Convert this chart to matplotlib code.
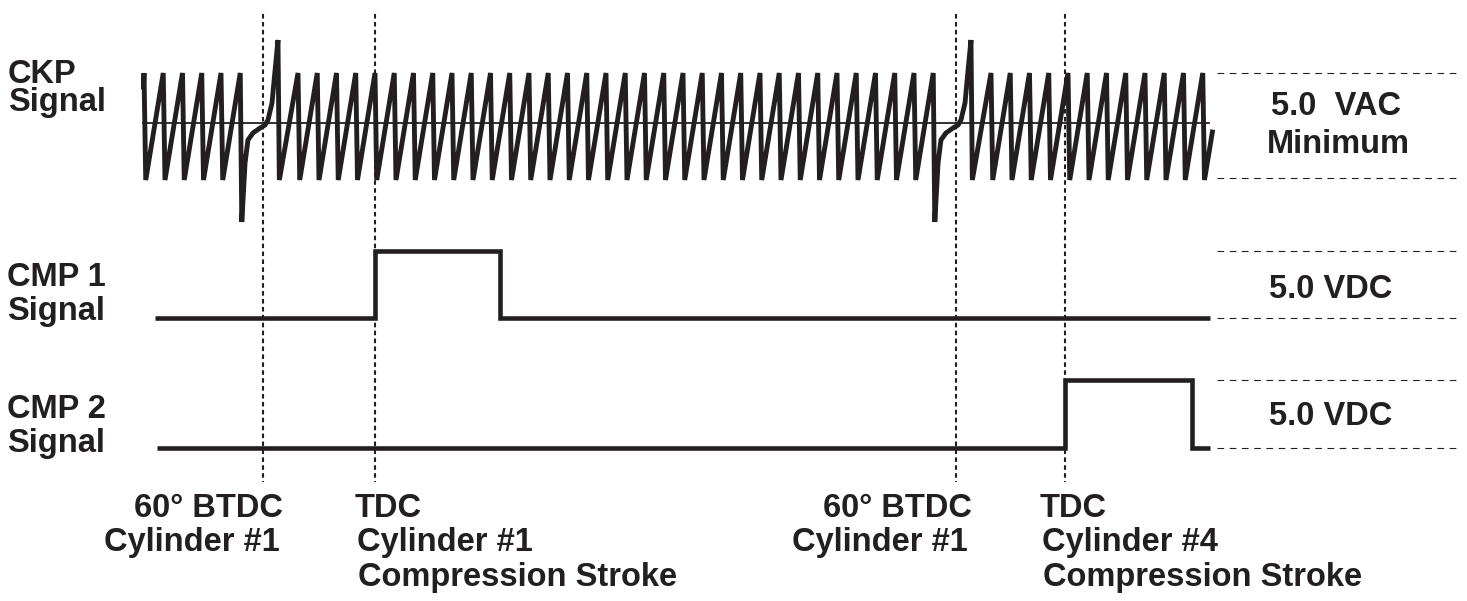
import matplotlib
matplotlib.use("Agg")
import matplotlib.pyplot as plt

# ---- data (crank degrees, volts) ----
# crank angle of each CKP tooth peak (36-1 wheel, 10 deg per tooth)
tooth_deg = [-120, -110, -100, -90, -80, -70,
             -40, -30, -20, -10, 0, 10, 20, 30, 40, 50, 60, 70, 80, 90,
             100, 110, 120, 130, 140, 150, 160, 170, 180, 190, 200, 210,
             220, 230, 240, 250, 260, 270, 280, 290,
             320, 330, 340, 350, 360, 370, 380, 390, 400, 410, 420, 430]
gap_after = [-70, 290]          # teeth followed by the missing-tooth gap
tooth_top = 2.5
tooth_bottom = -2.85
drop_width = 0.9
# gap waveform: offset (deg) from the last tooth before the gap, volts
gap_dx = [0.8, 2.5, 4.0, 6.6, 10.3, 12.9, 14.4, 16.5, 18.1, 19.6, 20.3]
gap_v = [-4.95, -2.0, -0.85, -0.5, -0.25, -0.1, 0.15, 1.0, 2.65, 4.15, -2.85]
ckp_start = (-120.3, 1.8)
ckp_end = (435.0, -0.45)
ckp_ref = [2.5, -2.75]

cmp1_deg = [-114.3, 0, 0, 65, 65, 433.8]
cmp1_v = [0, 0, 5, 5, 0, 0]
cmp2_deg = [-113.2, 358.4, 358.4, 424.4, 424.4, 433.8]
cmp2_v = [0, 0, 5, 5, 0, 0]

marker_deg = [-58.2, 0, 301.8, 358.4]

# ---- layout (pixels of a 1467x601 canvas) ----
W, H = 1467, 601
px_per_deg = 1.925
x_tdc = 375
ckp_row, ckp_scale = 123, 20.0
cmp1_row, cmp2_row, cmp_scale = 318, 447.5, 13.5
ink = "#231f20"
fsize = 23.5

plt.rcParams["font.family"] = ["Liberation Sans", "DejaVu Sans"]
plt.rcParams["font.weight"] = "bold"

fig = plt.figure(figsize=(W / 100, H / 100), dpi=100)
ax = fig.add_axes([0, 0, 1, 1])
ax.set_xlim(-x_tdc / px_per_deg, (W - x_tdc) / px_per_deg)
ax.set_ylim(H, 0)
ax.axis("off")

# CKP waveform
xs, vs = [ckp_start[0]], [ckp_start[1]]
for t in tooth_deg:
    xs.append(t)
    vs.append(tooth_top)
    if t in gap_after:
        xs += [t + d for d in gap_dx]
        vs += gap_v
    else:
        xs.append(t + drop_width)
        vs.append(tooth_bottom)
xs.append(ckp_end[0])
vs.append(ckp_end[1])
ax.plot([ckp_start[0], 433.5], [ckp_row, ckp_row], color=ink, lw=1.3)
ax.plot(xs, [ckp_row - v * ckp_scale for v in vs], color=ink, lw=3.5,
        solid_joinstyle="miter")

# CMP waveforms
ax.plot(cmp1_deg, [cmp1_row - v * cmp_scale for v in cmp1_v], color=ink,
        lw=3.3, solid_joinstyle="miter", solid_capstyle="butt")
ax.plot(cmp2_deg, [cmp2_row - v * cmp_scale for v in cmp2_v], color=ink,
        lw=3.3, solid_joinstyle="miter", solid_capstyle="butt")

# vertical event markers
for m in marker_deg:
    ax.plot([m, m], [14, 482], color=ink, lw=1.5, linestyle=(0, (2.2, 1.6)))

# right-hand reference levels
ref_x = [437.4, 562.6]
for v in ckp_ref:
    ax.plot(ref_x, [ckp_row - v * ckp_scale] * 2, color=ink, lw=0.8,
            linestyle=(0, (6, 5)))
for row in (cmp1_row, cmp2_row):
    for v in (0, 5):
        ax.plot(ref_x, [row - v * cmp_scale] * 2, color=ink, lw=0.8,
                linestyle=(0, (6, 5)))


def label(x, y, s, ha="left"):
    fig.text(x / W, 1 - y / H, s, ha=ha, va="baseline", fontsize=fsize,
             fontweight="bold", color=ink)


# left signal names
label(8, 83, "CKP")
label(8, 111, "Signal")
label(7, 286, "CMP 1")
label(7, 320, "Signal")
label(7, 418, "CMP 2")
label(7, 452, "Signal")

# right level labels
label(1336, 115, "5.0  VAC", ha="center")
label(1338, 153, "Minimum", ha="center")
label(1331, 298, "5.0 VDC", ha="center")
label(1331, 425, "5.0 VDC", ha="center")

# bottom event labels
label(283, 517, "60\u00b0 BTDC", ha="right")
label(280, 551, "Cylinder #1", ha="right")
label(355, 517, "TDC")
label(357, 551, "Cylinder #1")
label(358, 586, "Compression Stroke")
label(972, 517, "60\u00b0 BTDC", ha="right")
label(968, 551, "Cylinder #1", ha="right")
label(1040, 517, "TDC")
label(1042, 551, "Cylinder #4")
label(1043, 586, "Compression Stroke")

fig.savefig("out.png", dpi=100)
